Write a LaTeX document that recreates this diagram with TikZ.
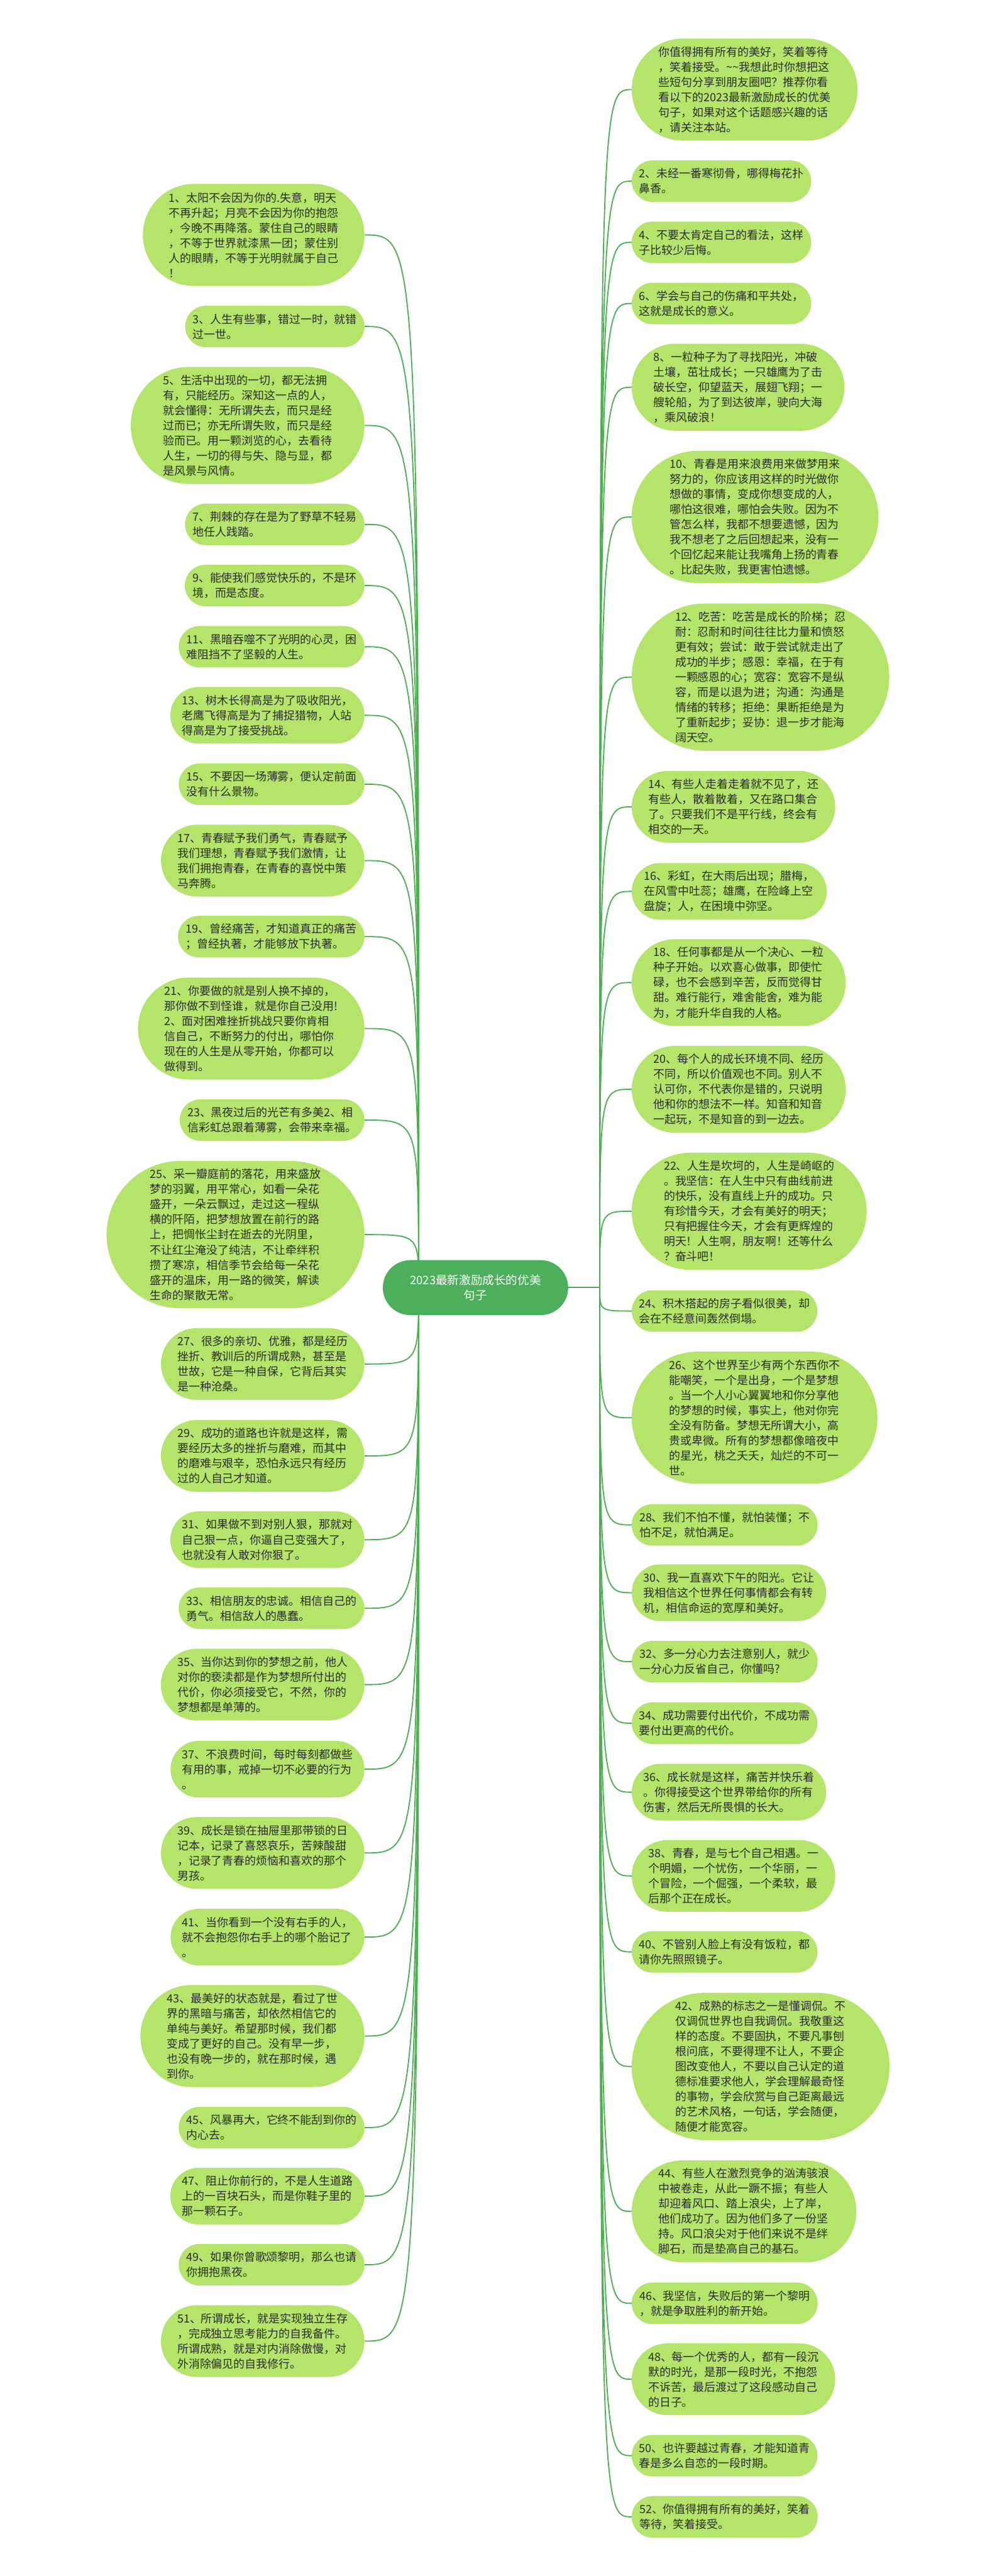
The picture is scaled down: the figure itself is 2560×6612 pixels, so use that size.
\documentclass[tikz,border=0pt]{standalone}
\usepackage{fontspec}
\newfontfamily\cjk{Noto Sans CJK SC}
\usetikzlibrary{shapes.misc}
\definecolor{leafgreen}{HTML}{B4E56A}
\definecolor{rootgreen}{HTML}{4CAF5C}
\definecolor{linegreen}{HTML}{4CAF50}
\definecolor{txt}{HTML}{2B2B2B}
\pgfdeclarelayer{bg}\pgfsetlayers{bg,main}
\tikzset{
  leaf/.style={rounded rectangle, fill=leafgreen, text=txt, inner xsep=8pt, inner ysep=0pt,
    align=left, font=\cjk\fontsize{29}{38.8}\selectfont},
  root/.style={rounded rectangle, fill=rootgreen, text=white, inner xsep=4pt, inner ysep=0pt,
    minimum height=141pt, align=center, font=\cjk\fontsize{30}{40}\selectfont},
  link/.style={draw=linegreen, line width=3pt}
}
\newcommand\Lleaf[4]{\node[leaf,anchor=east,minimum height={38.8*#3+29}] (#1) at (936,#2) {#4};}
\newcommand\Rleaf[4]{\node[leaf,anchor=west,minimum height={38.8*#3+29}] (#1) at (1622,#2) {#4};}
\newcommand\Llink[1]{\draw[link] (#1.east) .. controls (#1.east -| hubL) and (#1.east -| hubL) .. (hubL);}
\newcommand\Rlink[1]{\draw[link] (hubR) .. controls (#1.west -| hubR) and (#1.west -| hubR) .. (#1.west);}
\begin{document}
\begin{tikzpicture}[x=1pt,y=-1pt]
\begin{pgfonlayer}{bg}
\fill[white] (0,0) rectangle (2560,6612);
\end{pgfonlayer}
\useasboundingbox (0,0) rectangle (2560,6612);
\coordinate (hubL) at (1075,3305);
\coordinate (hubR) at (1540,3305);
% left column
\Lleaf{l1}{603}{6}{1、太阳不会因为你的.失意，明天\\不再升起；月亮不会因为你的抱怨\\，今晚不再降落。蒙住自己的眼睛\\，不等于世界就漆黑一团；蒙住别\\人的眼睛，不等于光明就属于自己\\！}
\Lleaf{l3}{838}{2}{3、人生有些事，错过一时，就错\\过一世。}
\Lleaf{l5}{1092}{7}{5、生活中出现的一切，都无法拥\\有，只能经历。深知这一点的人，\\就会懂得：无所谓失去，而只是经\\过而已；亦无所谓失败，而只是经\\验而已。用一颗浏览的心，去看待\\人生，一切的得与失、隐与显，都\\是风景与风情。}
\Lleaf{l7}{1346}{2}{7、荆棘的存在是为了野草不轻易\\地任人践踏。}
\Lleaf{l9}{1503}{2}{9、能使我们感觉快乐的，不是环\\境，而是态度。}
\Lleaf{l11}{1660}{2}{11、黑暗吞噬不了光明的心灵，困\\难阻挡不了坚毅的人生。}
\Lleaf{l13}{1836}{3}{13、树木长得高是为了吸收阳光，\\老鹰飞得高是为了捕捉猎物，人站\\得高是为了接受挑战。}
\Lleaf{l15}{2013}{2}{15、不要因一场薄雾，便认定前面\\没有什么景物。}
\Lleaf{l17}{2209}{4}{17、青春赋予我们勇气，青春赋予\\我们理想，青春赋予我们激情，让\\我们拥抱青春，在青春的喜悦中策\\马奔腾。}
\Lleaf{l19}{2404}{2}{19、曾经痛苦，才知道真正的痛苦\\；曾经执著，才能够放下执著。}
\Lleaf{l21}{2640}{6}{21、你要做的就是别人换不掉的，\\那你做不到怪谁，就是你自己没用!\\2、面对困难挫折挑战只要你肯相\\信自己，不断努力的付出，哪怕你\\现在的人生是从零开始，你都可以\\做得到。}
\Lleaf{l23}{2875}{2}{23、黑夜过后的光芒有多美2、相\\信彩虹总跟着薄雾，会带来幸福。}
\Lleaf{l25}{3169}{9}{25、采一瓣庭前的落花，用来盛放\\梦的羽翼，用平常心，如看一朵花\\盛开，一朵云飘过，走过这一程纵\\横的阡陌，把梦想放置在前行的路\\上，把惆怅尘封在逝去的光阴里，\\不让红尘淹没了纯洁，不让牵绊积\\攒了寒凉，相信季节会给每一朵花\\盛开的温床，用一路的微笑，解读\\生命的聚散无常。}
\Lleaf{l27}{3501}{4}{27、很多的亲切、优雅，都是经历\\挫折、教训后的所谓成熟，甚至是\\世故，它是一种自保，它背后其实\\是一种沧桑。}
\Lleaf{l29}{3737}{4}{29、成功的道路也许就是这样，需\\要经历太多的挫折与磨难，而其中\\的磨难与艰辛，恐怕永远只有经历\\过的人自己才知道。}
\Lleaf{l31}{3952}{3}{31、如果做不到对别人狠，那就对\\自己狠一点，你逼自己变强大了，\\也就没有人敢对你狠了。}
\Lleaf{l33}{4128}{2}{33、相信朋友的忠诚。相信自己的\\勇气。相信敌人的愚蠢。}
\Lleaf{l35}{4324}{4}{35、当你达到你的梦想之前，他人\\对你的亵渎都是作为梦想所付出的\\代价，你必须接受它，不然，你的\\梦想都是单薄的。}
\Lleaf{l37}{4541}{3}{37、不浪费时间，每时每刻都做些\\有用的事，戒掉一切不必要的行为\\。}
\Lleaf{l39}{4756}{4}{39、成长是锁在抽屉里那带锁的日\\记本，记录了喜怒哀乐，苦辣酸甜\\，记录了青春的烦恼和喜欢的那个\\男孩。}
\Lleaf{l41}{4972}{3}{41、当你看到一个没有右手的人，\\就不会抱怨你右手上的哪个胎记了\\。}
\Lleaf{l43}{5226}{6}{43、最美好的状态就是，看过了世\\界的黑暗与痛苦，却依然相信它的\\单纯与美好。希望那时候，我们都\\变成了更好的自己。没有早一步，\\也没有晚一步的，就在那时候，遇\\到你。}
\Lleaf{l45}{5461}{2}{45、风暴再大，它终不能刮到你的\\内心去。}
\Lleaf{l47}{5637}{3}{47、阻止你前行的，不是人生道路\\上的一百块石头，而是你鞋子里的\\那一颗石子。}
\Lleaf{l49}{5813}{2}{49、如果你曾歌颂黎明，那么也请\\你拥抱黑夜。}
\Lleaf{l51}{6009}{4}{51、所谓成长，就是实现独立生存\\，完成独立思考能力的自我备件。\\所谓成熟，就是对内消除傲慢，对\\外消除偏见的自我修行。}
% right column
\Rleaf{r0}{230}{6}{你值得拥有所有的美好，笑着等待\\，笑着接受。\textasciitilde\textasciitilde 我想此时你想把这\\些短句分享到朋友圈吧？推荐你看\\看以下的2023最新激励成长的优美\\句子，如果对这个话题感兴趣的话\\，请关注本站。}
\Rleaf{r2}{465}{2}{2、未经一番寒彻骨，哪得梅花扑\\鼻香。}
\Rleaf{r4}{622}{2}{4、不要太肯定自己的看法，这样\\子比较少后悔。}
\Rleaf{r6}{779}{2}{6、学会与自己的伤痛和平共处，\\这就是成长的意义。}
\Rleaf{r8}{994}{5}{8、一粒种子为了寻找阳光，冲破\\土壤，茁壮成长；一只雄鹰为了击\\破长空，仰望蓝天，展翅飞翔；一\\艘轮船，为了到达彼岸，驶向大海\\，乘风破浪！}
\Rleaf{r10}{1327}{8}{10、青春是用来浪费用来做梦用来\\努力的，你应该用这样的时光做你\\想做的事情，变成你想变成的人，\\哪怕这很难，哪怕会失败。因为不\\管怎么样，我都不想要遗憾，因为\\我不想老了之后回想起来，没有一\\个回忆起来能让我嘴角上扬的青春\\。比起失败，我更害怕遗憾。}
\Rleaf{r12}{1738}{9}{12、吃苦：吃苦是成长的阶梯；忍\\耐：忍耐和时间往往比力量和愤怒\\更有效；尝试：敢于尝试就走出了\\成功的半步；感恩：幸福，在于有\\一颗感恩的心；宽容：宽容不是纵\\容，而是以退为进；沟通：沟通是\\情绪的转移；拒绝：果断拒绝是为\\了重新起步；妥协：退一步才能海\\阔天空。}
\Rleaf{r14}{2071}{4}{14、有些人走着走着就不见了，还\\有些人，散着散着，又在路口集合\\了。只要我们不是平行线，终会有\\相交的一天。}
\Rleaf{r16}{2288}{3}{16、彩虹，在大雨后出现；腊梅，\\在风雪中吐蕊；雄鹰，在险峰上空\\盘旋；人，在困境中弥坚。}
\Rleaf{r18}{2522}{5}{18、任何事都是从一个决心、一粒\\种子开始。以欢喜心做事，即使忙\\碌，也不会感到辛苦，反而觉得甘\\甜。难行能行，难舍能舍，难为能\\为，才能升华自我的人格。}
\Rleaf{r20}{2796}{5}{20、每个人的成长环境不同、经历\\不同，所以价值观也不同。别人不\\认可你，不代表你是错的，只说明\\他和你的想法不一样。知音和知音\\一起玩，不是知音的到一边去。}
\Rleaf{r22}{3109}{7}{22、人生是坎坷的，人生是崎岖的\\。我坚信：在人生中只有曲线前进\\的快乐，没有直线上升的成功。只\\有珍惜今天，才会有美好的明天；\\只有把握住今天，才会有更辉煌的\\明天！人生啊，朋友啊！还等什么\\？奋斗吧！}
\Rleaf{r24}{3365}{2}{24、积木搭起的房子看似很美，却\\会在不经意间轰然倒塌。}
\Rleaf{r26}{3639}{8}{26、这个世界至少有两个东西你不\\能嘲笑，一个是出身，一个是梦想\\。当一个人小心翼翼地和你分享他\\的梦想的时候，事实上，他对你完\\全没有防备。梦想无所谓大小，高\\贵或卑微。所有的梦想都像暗夜中\\的星光，桃之夭夭，灿烂的不可一\\世。}
\Rleaf{r28}{3914}{2}{28、我们不怕不懂，就怕装懂；不\\怕不足，就怕满足。}
\Rleaf{r30}{4088}{3}{30、我一直喜欢下午的阳光。它让\\我相信这个世界任何事情都会有转\\机，相信命运的宽厚和美好。}
\Rleaf{r32}{4265}{2}{32、多一分心力去注意别人，就少\\一分心力反省自己，你懂吗?}
\Rleaf{r34}{4423}{2}{34、成功需要付出代价，不成功需\\要付出更高的代价。}
\Rleaf{r36}{4600}{3}{36、成长就是这样，痛苦并快乐着\\。你得接受这个世界带给你的所有\\伤害，然后无所畏惧的长大。}
\Rleaf{r38}{4815}{4}{38、青春，是与七个自己相遇。一\\个明媚，一个忧伤，一个华丽，一\\个冒险，一个倔强，一个柔软，最\\后那个正在成长。}
\Rleaf{r40}{5010}{2}{40、不管别人脸上有没有饭粒，都\\请你先照照镜子。}
\Rleaf{r42}{5304}{9}{42、成熟的标志之一是懂调侃。不\\仅调侃世界也自我调侃。我敬重这\\样的态度。不要固执，不要凡事刨\\根问底，不要得理不让人，不要企\\图改变他人，不要以自己认定的道\\德标准要求他人，学会理解最奇怪\\的事物，学会欣赏与自己距离最远\\的艺术风格，一句话，学会随便，\\随便才能宽容。}
\Rleaf{r44}{5676}{6}{44、有些人在激烈竞争的汹涛骇浪\\中被卷走，从此一蹶不振；有些人\\却迎着风口、踏上浪尖，上了岸，\\他们成功了。因为他们多了一份坚\\持。风口浪尖对于他们来说不是绊\\脚石，而是垫高自己的基石。}
\Rleaf{r46}{5912}{2}{46、我坚信，失败后的第一个黎明\\，就是争取胜利的新开始。}
\Rleaf{r48}{6107}{4}{48、每一个优秀的人，都有一段沉\\默的时光，是那一段时光，不抱怨\\不诉苦，最后渡过了这段感动自己\\的日子。}
\Rleaf{r50}{6303}{2}{50、也许要越过青春，才能知道青\\春是多么自恋的一段时期。}
\Rleaf{r52}{6460}{2}{52、你值得拥有所有的美好，笑着\\等待，笑着接受。}
% root
\node[root,minimum width=484pt] (root) at (1221,3305) {2023最新激励成长的优美\\句子};
% connectors
\begin{pgfonlayer}{bg}
\draw[link] (root.east) -- (hubR);
\foreach \n in {l1,l3,l5,l7,l9,l11,l13,l15,l17,l19,l21,l23,l25,l27,l29,l31,l33,l35,l37,l39,l41,l43,l45,l47,l49,l51}{\Llink{\n}}
\foreach \n in {r0,r2,r4,r6,r8,r10,r12,r14,r16,r18,r20,r22,r24,r26,r28,r30,r32,r34,r36,r38,r40,r42,r44,r46,r48,r50,r52}{\Rlink{\n}}
\end{pgfonlayer}
\end{tikzpicture}
\end{document}
